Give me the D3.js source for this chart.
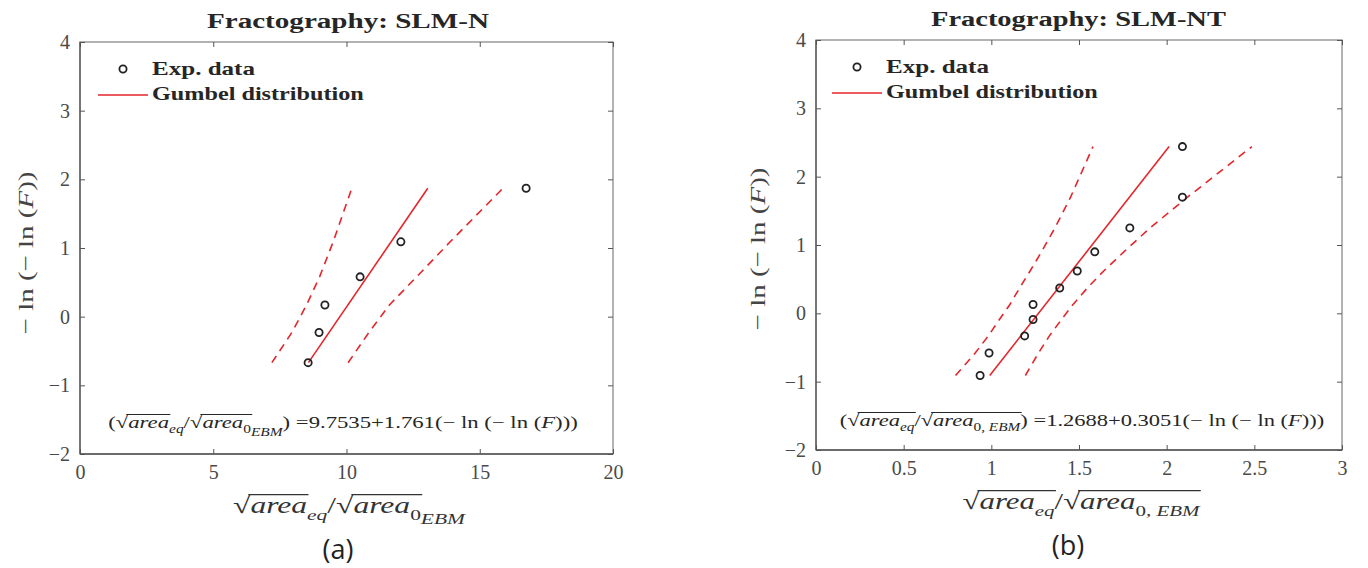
<!DOCTYPE html>
<html><head><meta charset="utf-8">
<script src="https://cdn.jsdelivr.net/npm/d3@7"></script>
<style>body{margin:0;background:#fff}svg{display:block}</style>
</head><body>
<svg id="c" width="1368" height="568"></svg>
<script>
// ---------- data ----------
const xTicksA = [0, 5, 10, 15, 20];
const xTicksB = [0, 0.5, 1, 1.5, 2, 2.5, 3];
const yTicks = [-2, -1, 0, 1, 2, 3, 4];

const expXA = [8.56, 8.97, 9.19, 10.51, 12.04, 16.74];
const expYA = [-0.67, -0.23, 0.17, 0.58, 1.09, 1.87];
const fitXA = [8.57, 13.05];
const fitYA = [-0.67, 1.87];
const bandYA = [-0.67, -0.23, 0.17, 0.58, 1.09, 1.87];
const lowerXA = [7.2, 7.95, 8.5, 8.99, 9.5, 10.2];
const upperXA = [10.06, 10.84, 11.61, 12.63, 13.89, 15.87];

const expXB = [0.936, 0.987, 1.19, 1.238, 1.238, 1.39, 1.49, 1.59, 1.79, 2.09, 2.09];
const expYB = [-0.91, -0.58, -0.33, -0.09, 0.13, 0.37, 0.62, 0.90, 1.25, 1.70, 2.44];
const fitXB = [0.991, 2.014];
const fitYB = [-0.91, 2.44];
const bandYB = [-0.91, -0.58, -0.33, -0.09, 0.13, 0.37, 0.62, 0.90, 1.25, 1.70, 2.44];
const lowerXB = [0.796, 0.908, 0.983, 1.046, 1.106, 1.161, 1.221, 1.286, 1.363, 1.452, 1.58];
const upperXB = [1.194, 1.269, 1.331, 1.40, 1.466, 1.547, 1.641, 1.756, 1.905, 2.119, 2.486];

const titleA = "Fractography: SLM-N";
const titleB = "Fractography: SLM-NT";
const legendLabels = ["Exp. data", "Gumbel distribution"];

// ---------- style ----------
const SERIF = "'Liberation Serif','DejaVu Serif',serif";
const RED = "#e3262b";
const AXC = "#8a8a8a";
const TXT = "#262626";

const svg = d3.select("#c");

// text stretched along its own direction to a target width
function mathText(g, x, y, parts, opt) {
  const size = opt.size;
  const col = opt.color || TXT;
  const grp = g.append("g");
  const t = grp.append("text").attr("x", 0).attr("y", 0)
    .attr("font-size", size).attr("font-family", SERIF)
    .attr("font-weight", opt.bold ? "bold" : null)
    .attr("fill", col).attr("text-anchor", opt.anchor || "start");
  let shift = 0;
  const overs = [];
  let cur = null;
  parts.forEach(p => {
    const ts = t.append("tspan").text(p.t).attr("fill", col);
    if (p.i) ts.attr("font-style", "italic");
    const tg = p.sub ? size * (p.sub === 2 ? 0.48 : 0.3) : 0;
    if (tg !== shift) { ts.attr("dy", tg - shift); shift = tg; }
    if (p.sub) ts.attr("font-size", size * 0.68);
    if (p.over !== undefined) {
      if (!cur || cur.id !== p.over) { cur = { id: p.over, nodes: [] }; overs.push(cur); }
      cur.nodes.push(ts.node());
    }
  });
  const w = t.node().getComputedTextLength();
  const sx = opt.width ? opt.width / w : 1;
  grp.attr("transform", `translate(${x},${y}) rotate(${opt.rotate || 0}) scale(${sx},1)`);
  overs.forEach(o => {
    const first = o.nodes[0], last = o.nodes[o.nodes.length - 1];
    const s = first.getStartPositionOfChar(0);
    const e = last.getEndPositionOfChar(last.getNumberOfChars() - 1);
    const yy = -size * 0.8;
    grp.append("line").attr("x1", s.x - 1.5).attr("x2", e.x + 1)
      .attr("y1", yy).attr("y2", yy)
      .attr("stroke", col).attr("stroke-width", Math.max(1, size * 0.05));
  });
  return grp;
}

function panel(cfg) {
  const g = svg.append("g");
  const x = d3.scaleLinear().domain(cfg.xDomain).range(cfg.xRange);
  const y = d3.scaleLinear().domain([-2, 4]).range(cfg.yRange);
  const [x0, x1] = cfg.xRange, [y0, y1] = cfg.yRange;
  const tl = 5;

  g.append("rect").attr("x", x0).attr("y", y1).attr("width", x1 - x0).attr("height", y0 - y1)
    .attr("fill", "none").attr("stroke", AXC).attr("stroke-width", 1.3);
  g.append("line").attr("x1", x0).attr("x2", x0).attr("y1", y0).attr("y2", y1).attr("stroke", "#555").attr("stroke-width", 1.3);
  g.append("line").attr("x1", x0).attr("x2", x1).attr("y1", y0).attr("y2", y0).attr("stroke", "#555").attr("stroke-width", 1.3);

  const xa = g.append("g").attr("transform", `translate(0,${y0})`)
    .call(d3.axisBottom(x).tickValues(cfg.xTicks).tickSize(-tl).tickPadding(11).tickFormat(d => String(d)));
  const xt = g.append("g").attr("transform", `translate(0,${y1})`)
    .call(d3.axisTop(x).tickValues(cfg.xTicks).tickSize(-tl).tickFormat(""));
  const ya = g.append("g").attr("transform", `translate(${x0},0)`)
    .call(d3.axisLeft(y).tickValues(yTicks).tickSize(-tl).tickPadding(10).tickFormat(d => d < 0 ? "\u2212" + Math.abs(d) : String(d)));
  const yr = g.append("g").attr("transform", `translate(${x1},0)`)
    .call(d3.axisRight(y).tickValues(yTicks).tickSize(-tl).tickFormat(""));
  [xa, xt, ya, yr].forEach(a => {
    a.select(".domain").remove();
    a.selectAll(".tick line").attr("stroke", "#555");
    a.selectAll("text").attr("font-family", SERIF).attr("font-size", 20).attr("fill", "#4a4a4a");
  });
  xa.selectAll("text").attr("dy", "0.71em");

  const lineFn = d3.line().x(d => x(d[0])).y(d => y(d[1]));
  [cfg.lower, cfg.upper].forEach(arr => {
    g.append("path").attr("d", lineFn(arr.map((v, i) => [v, cfg.bandY[i]])))
      .attr("fill", "none").attr("stroke", RED).attr("stroke-width", 1.6).attr("stroke-dasharray", "8,6");
  });
  g.append("path").attr("d", lineFn(cfg.fitX.map((v, i) => [v, cfg.fitY[i]])))
    .attr("fill", "none").attr("stroke", RED).attr("stroke-width", 1.6);
  g.selectAll("circle.pt").data(cfg.expX.map((v, i) => [v, cfg.expY[i]])).join("circle")
    .attr("cx", d => x(d[0])).attr("cy", d => y(d[1])).attr("r", 3.6)
    .attr("fill", "none").attr("stroke", "#222").attr("stroke-width", 1.8);

  // title
  mathText(g, cfg.titleX, y1 - 14, [{ t: cfg.title }], { size: 22, bold: 1, width: cfg.titleW });

  // legend
  const lx = x0 + cfg.legDx;
  g.append("circle").attr("cx", lx + 25).attr("cy", y1 + 27).attr("r", 3.6)
    .attr("fill", "none").attr("stroke", "#222").attr("stroke-width", 1.8);
  g.append("line").attr("x1", lx).attr("x2", lx + 50).attr("y1", y1 + 53).attr("y2", y1 + 53)
    .attr("stroke", RED).attr("stroke-width", 1.6);
  const legW = [103, 212];
  legendLabels.forEach((t, i) => {
    mathText(g, lx + 54, y1 + 33 + i * 25, [{ t }], { size: 19.5, bold: 1, width: legW[i] });
  });

  // y label
  mathText(g, cfg.yLabelX, cfg.yLabelC, [{ t: "\u2212 ln (\u2212 ln (" }, { t: "F", i: 1 }, { t: "))" }],
    { size: 22, anchor: "middle", rotate: -90, width: cfg.yLabelW, color: "#444" });
  // x label
  mathText(g, cfg.xLabelC, cfg.xLabelY, cfg.xLabel, { size: 23, anchor: "middle", width: cfg.xLabelW, color: "#333" });
  // annotation
  mathText(g, cfg.annC, cfg.annY, cfg.ann, { size: 17, anchor: "middle", width: cfg.annW });

  g.append("text").attr("x", cfg.tagX).attr("y", cfg.tagY).attr("text-anchor", "middle")
    .attr("font-family", "'Open Sans','Noto Sans',sans-serif").attr("font-size", 27).attr("fill", "#222")
    .text(cfg.tag);
}

panel({
  xDomain: [0, 20], xRange: [80, 613], yRange: [454, 42], xTicks: xTicksA,
  expX: expXA, expY: expYA, fitX: fitXA, fitY: fitYA, bandY: bandYA, lower: lowerXA, upper: upperXA,
  title: titleA, titleX: 207, titleW: 282, legDx: 18,
  yLabelX: 33, yLabelC: 253, yLabelW: 163,
  xLabelC: 349, xLabelY: 513, xLabelW: 232,
  annC: 343, annY: 428, annW: 470,
  tagX: 338, tagY: 559, tag: "(a)",
  xLabel: [{ t: "\u221A" }, { t: "area", i: 1, over: 1 }, { t: "eq", i: 1, sub: 1 }, { t: "/\u221A" },
           { t: "area", i: 1, over: 2 }, { t: "0", sub: 1, over: 2 }, { t: "EBM", i: 1, sub: 2 }],
  ann: [{ t: "(\u221A" }, { t: "area", i: 1, over: 1 }, { t: "eq", i: 1, sub: 1 }, { t: "/\u221A" },
        { t: "area", i: 1, over: 2 }, { t: "0", sub: 1, over: 2 }, { t: "EBM", i: 1, sub: 2 },
        { t: ") =9.7535+1.761(\u2212 ln (\u2212 ln (" }, { t: "F", i: 1 }, { t: ")))" }]
});

panel({
  xDomain: [0, 3], xRange: [816, 1342], yRange: [450, 40], xTicks: xTicksB,
  expX: expXB, expY: expYB, fitX: fitXB, fitY: fitYB, bandY: bandYB, lower: lowerXB, upper: upperXB,
  title: titleB, titleX: 931, titleW: 295, legDx: 16,
  yLabelX: 765, yLabelC: 249, yLabelW: 163,
  xLabelC: 1081, xLabelY: 509, xLabelW: 237,
  annC: 1082, annY: 426, annW: 485,
  tagX: 1068, tagY: 555, tag: "(b)",
  xLabel: [{ t: "\u221A" }, { t: "area", i: 1, over: 1 }, { t: "eq", i: 1, sub: 1, over: 1 }, { t: "/\u221A" },
           { t: "area", i: 1, over: 2 }, { t: "0, ", sub: 1, over: 2 }, { t: "EBM", i: 1, sub: 1, over: 2 }],
  ann: [{ t: "(\u221A" }, { t: "area", i: 1, over: 1 }, { t: "eq", i: 1, sub: 1, over: 1 }, { t: "/\u221A" },
        { t: "area", i: 1, over: 2 }, { t: "0, ", sub: 1, over: 2 }, { t: "EBM", i: 1, sub: 1, over: 2 },
        { t: ") =1.2688+0.3051(\u2212 ln (\u2212 ln (" }, { t: "F", i: 1 }, { t: ")))" }]
});
</script>
</body></html>
